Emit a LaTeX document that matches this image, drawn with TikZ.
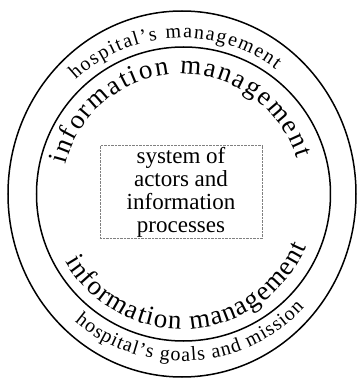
\documentclass[tikz,border=0pt]{standalone}
\usepackage{fontspec}
\setmainfont{Liberation Serif}
\usetikzlibrary{decorations.text}

\tikzset{
  ring/.style={line width=1.5pt},
  curvetext/.style={decorate, decoration={text along path, text align={fit to path}, text={#1}}},
  sysbox/.style={draw=gray, densely dotted, thin, minimum width=162pt, minimum height=93pt, align=center, inner sep=0pt, font=\fontsize{23}{23}\selectfont}
}

\begin{document}
\begin{tikzpicture}[x=1pt,y=1pt]
\useasboundingbox (-182,-184) rectangle (176,194);

\draw[ring] (0,0) ellipse [x radius=174, y radius=183];
\draw[ring] (1.5,0) circle [radius=147];

%outer band
\path[curvetext={|\fontsize{20}{20}\selectfont|hospital's management}] (133:156) arc[start angle=133, end angle=53, radius=156];
\path[curvetext={|\fontsize{20}{20}\selectfont|hospital's goals and mission}] (230:167) arc[start angle=230, end angle=317, radius=167];

%inner band
\path[curvetext={|\fontsize{27}{27}\selectfont|information management}] (166:120) arc[start angle=166, end angle=17, radius=120];
\path[curvetext={|\fontsize{27}{27}\selectfont|information management}] (210:135) arc[start angle=210, end angle=337, radius=135];

\node[sysbox] (sys) at (-1,2) {system of\\ actors and\\ information\\ processes};

\end{tikzpicture}
\end{document}
